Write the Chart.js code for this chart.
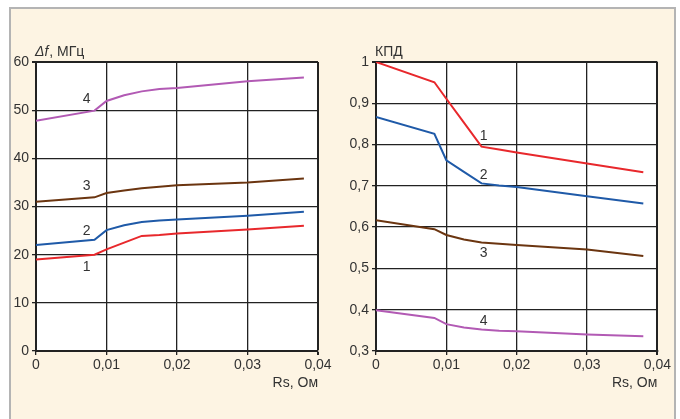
<!DOCTYPE html>
<html>
<head>
<meta charset="utf-8">
<script src="https://cdn.jsdelivr.net/npm/chart.js@4"></script>
<style>
  html, body { margin: 0; padding: 0; background: #fff; }
  #frame {
    position: absolute; left: 9px; top: 7px; width: 663px; height: 420px;
    background: #fdf4e3; border-left: 2px solid #b4b4b4; border-top: 2px solid #b4b4b4; border-right: 2px solid #b4b4b4;
  }
  .box { position: absolute; top: 8px; height: 411px; }
</style>
</head>
<body>
<div id="frame"></div>
<div class="box" style="left:10px;width:330px"><canvas id="dfChart"></canvas></div>
<div class="box" style="left:350px;width:323px"><canvas id="kpdChart"></canvas></div>
<script>
// Rs, Ohm
const rs = [0, 0.0083, 0.01, 0.0125, 0.015, 0.0175, 0.02, 0.03, 0.038]

// bandwidth, MHz
const df1 = [19, 20, 21.1, 22.5, 23.9, 24.1, 24.4, 25.2, 26]
const df2 = [22, 23.1, 25.1, 26.1, 26.8, 27.1, 27.3, 28.1, 28.9]
const df3 = [31, 31.9, 32.8, 33.3, 33.8, 34.1, 34.4, 35.0, 35.8]
const df4 = [47.8, 49.9, 51.9, 53.1, 53.9, 54.4, 54.6, 56.0, 56.8]

// efficiency
const kpd1 = [1.0, 0.951, 0.911, 0.853, 0.795, 0.788, 0.781, 0.754, 0.733]
const kpd2 = [0.867, 0.826, 0.762, 0.734, 0.706, 0.701, 0.697, 0.675, 0.657]
const kpd3 = [0.617, 0.595, 0.581, 0.570, 0.563, 0.560, 0.557, 0.546, 0.530]
const kpd4 = [0.399, 0.380, 0.365, 0.357, 0.352, 0.349, 0.348, 0.340, 0.336]

// curve numbers: [label, x, y]
const dfLabels = [['1', 0.0072, 17.4], ['2', 0.0072, 24.9], ['3', 0.0072, 34.2], ['4', 0.0072, 52.3]]
const kpdLabels = [['1', 0.0153, 0.821], ['2', 0.0153, 0.726], ['3', 0.0153, 0.538], ['4', 0.0153, 0.373]]

const colors = ['#e8282c', '#1f5aa8', '#6b3510', '#b25ab4']
const FONT = "'Liberation Sans', Arial, sans-serif"
const TXT = '#333'

const pts = ys => ys.map((y, i) => ({x: rs[i], y: y}))
const comma = v => String(Math.round(v * 100) / 100).replace('.', ',')

function makeSet(ys, i) {
    return {data: pts(ys), borderColor: colors[i], borderWidth: 2, pointRadius: 0, tension: 0}
}

const paperPlugin = {
    id: 'paper',
    beforeDraw(chart) {
        const a = chart.chartArea, c = chart.ctx
        c.save()
        c.fillStyle = '#fff'
        c.fillRect(a.left, a.top, a.right - a.left, a.bottom - a.top)
        c.restore()
    },
    afterDraw(chart, args, opts) {
        const c = chart.ctx, a = chart.chartArea
        const xs = chart.scales.x, ys = chart.scales.y
        c.save()
        c.fillStyle = TXT
        c.font = '14px ' + FONT
        c.textAlign = 'center'
        c.textBaseline = 'middle'
        opts.marks.forEach(m => c.fillText(m[0], xs.getPixelForValue(m[1]), ys.getPixelForValue(m[2])))
        // axis captions
        c.textBaseline = 'alphabetic'
        c.textAlign = 'right'
        c.fillText('Rs, Ом', a.right, 379)
        c.textAlign = 'left'
        if (opts.italic) {
            c.font = 'italic 14px ' + FONT
            c.fillText(opts.italic, 25, 48)
            const w = c.measureText(opts.italic).width
            c.font = '14px ' + FONT
            c.fillText(opts.title, 25 + w + 1, 48)
        } else {
            c.fillText(opts.title, 25, 48)
        }
        c.restore()
    }
}

function makeOptions(ymin, ymax, step, fmt, marks, title, italic, padRight) {
    const edge = (ctx, max) => (ctx.tick && Math.abs(ctx.tick.value - max) < 1e-9) ? 2 : 1.3
    return {
        responsive: true,
        maintainAspectRatio: false,
        animation: false,
        layout: {padding: {top: 54, right: padRight, left: 0, bottom: 0}},
        plugins: {
            legend: {display: false},
            tooltip: {enabled: false},
            paper: {marks: marks, title: title, italic: italic}
        },
        scales: {
            x: {
                type: 'linear', min: 0, max: 0.04,
                afterFit: s => { s.height = 68 },
                ticks: {stepSize: 0.01, callback: v => comma(v), color: TXT, font: {family: FONT, size: 14}, padding: 2, maxRotation: 0},
                grid: {color: '#222', lineWidth: ctx => edge(ctx, 0.04), tickLength: 4, tickColor: '#222'},
                border: {color: '#222', width: 2}
            },
            y: {
                min: ymin, max: ymax,
                afterFit: s => { s.width = 26 },
                ticks: {stepSize: step, callback: v => fmt(v), color: TXT, font: {family: FONT, size: 14}, padding: 3},
                grid: {color: '#222', lineWidth: ctx => edge(ctx, ymax), tickLength: 4, tickColor: '#222'},
                border: {color: '#222', width: 2}
            }
        }
    }
}

new Chart(document.getElementById('dfChart'), {
    type: 'line',
    data: {datasets: [makeSet(df1, 0), makeSet(df2, 1), makeSet(df3, 2), makeSet(df4, 3)]},
    options: makeOptions(0, 60, 10, v => String(v), dfLabels, ', МГц', 'Δf', 22),
    plugins: [paperPlugin]
})

new Chart(document.getElementById('kpdChart'), {
    type: 'line',
    data: {datasets: [makeSet(kpd1, 0), makeSet(kpd2, 1), makeSet(kpd3, 2), makeSet(kpd4, 3)]},
    options: makeOptions(0.3, 1, 0.1, v => comma(v), kpdLabels, 'КПД', null, 15),
    plugins: [paperPlugin]
})
</script>
</body>
</html>
